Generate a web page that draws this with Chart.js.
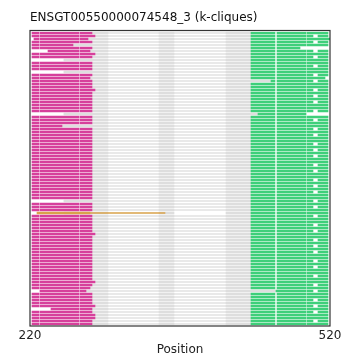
<!DOCTYPE html>
<html><head><meta charset="utf-8">
<script src="https://cdn.jsdelivr.net/npm/chart.js@4/dist/chart.umd.min.js"></script>
<style>html,body{margin:0;padding:0;background:#fff}#wrap{width:360px;height:357px}</style>
</head><body><div id="wrap"><canvas id="c" width="360" height="357"></canvas></div>
<script>
const chartTitle = "ENSGT00550000074548_3 (k-cliques)";
const xTicks = [220, 520];
const rowCount = 98;
const rowLabels = Array.from({length: rowCount}, (_, i) => "row" + i);

// magenta clique per row (null = absent)
const magentaStart = [
 222,222,224,222,222,222,238,222,222,null,
 222,222,222,null,222,222,222,222,222,222,
 222,222,222,222,222,222,222,null,222,222,
 222,222,222,222,222,222,222,222,222,222,
 222,222,222,222,222,222,222,222,222,222,
 222,222,222,222,222,222,null,222,222,222,
 null,222,222,222,222,222,222,222,222,222,
 222,222,222,222,222,222,222,222,222,222,
 222,222,222,222,222,222,230,222,222,222,
 222,222,241,222,222,222,222,222];
const magentaEnd = [
 282,285,278,282,263,282,280,285,282,null,
 282,282,282,null,282,280,282,282,282,285,
 282,282,282,282,282,282,282,null,282,282,
 282,252,282,282,282,282,282,282,282,282,
 282,282,282,282,282,282,282,282,282,282,
 282,282,282,282,282,282,null,282,282,282,
 null,282,282,282,282,282,282,285,282,282,
 282,282,282,282,282,282,282,282,282,282,
 282,282,282,285,282,280,276,282,282,282,
 282,285,282,282,285,285,282,282];
const magentaGaps = [[229,230],[269,270]];

// green clique per row
const greenStart = [
 441,441,441,441,441,441,441,441,441,441,
 441,441,441,441,441,441,461,441,441,441,
 441,441,441,441,441,441,441,448,441,441,
 441,441,441,441,441,441,441,441,441,441,
 441,441,441,441,441,441,441,441,441,441,
 441,441,441,441,441,441,441,441,441,441,
 441,441,441,441,441,441,441,441,441,441,
 441,441,441,441,441,441,441,441,441,441,
 441,441,441,441,441,441,466,441,441,441,
 441,441,441,441,441,441,441,441];
const greenEnd = [
 518,518,520,518,518,490,518,518,518,518,
 518,518,518,518,518,515,518,518,518,518,
 518,518,518,518,518,518,518,497,518,518,
 518,518,518,518,518,518,518,518,518,518,
 518,518,518,518,518,518,518,518,518,518,
 518,518,518,518,518,518,518,518,518,518,
 518,518,518,518,518,518,518,518,518,518,
 518,518,518,518,518,518,518,518,518,518,
 518,518,518,518,518,518,518,518,518,518,
 518,518,518,518,518,518,518,518];
const greenMid = [
 1,0,1,0,1,1,0,1,0,1,
 1,0,1,1,0,1,0,1,1,0,
 1,0,1,0,1,1,0,0,1,0,
 1,1,0,1,0,1,1,0,1,0,
 1,0,1,1,0,1,0,1,1,0,
 1,0,1,0,1,1,0,1,0,1,
 1,0,1,1,0,1,0,1,1,0,
 1,0,1,0,1,1,0,1,0,1,
 1,0,1,1,0,1,0,1,1,0,
 1,0,1,0,1,1,0,1];
const greenGaps = [[465,467],[496,497]];
const greenMidGap = [503,508];

// gray (unassigned) spans
const grayBareStart = 254;
const grayBlocks = [[298,298],[349,364],[416,441]];
const grayThinEnd = 441;

// orange clique (single row)
const orangeRow = 60;
const orangeThick = [227,280];
const orangeThin = [280,355];

function split(a, b, gaps){
  const out=[]; let s=a;
  for(const [g0,g1] of gaps){ if(g0>s && g0<b){ out.push([s,g0]); s=Math.max(s,g1);} }
  if(b>s) out.push([s,b]);
  return out;
}
const magentaData=[], greenData=[], grayData=[], thinData=[];
for(let i=0;i<rowCount;i++){
  const y=rowLabels[i];
  const gs = magentaEnd[i]==null ? grayBareStart : magentaEnd[i];
  if(i!==orangeRow) thinData.push({y, x:[gs, grayThinEnd]});
  grayData.push({y, x:[gs, grayBlocks[0][1]]});
  grayData.push({y, x:grayBlocks[1]});
  grayData.push({y, x:[grayBlocks[2][0], greenStart[i]]});
  if(magentaStart[i]!=null){
    for(const s of split(magentaStart[i], magentaEnd[i], magentaGaps)) magentaData.push({y, x:s});
  }
  const gg = greenMid[i] ? greenGaps : greenGaps.concat([greenMidGap]);
  for(const s of split(greenStart[i], greenEnd[i], gg)) greenData.push({y, x:s});
}
const orangeThickData=[{y:rowLabels[orangeRow], x:orangeThick}];
const orangeThinData=[{y:rowLabels[orangeRow], x:orangeThin}];

const common = {grouped:false, borderWidth:0, borderSkipped:false};
const framePlugin = {
  id:'frame',
  afterDraw(chart){
    const {ctx, chartArea:a} = chart;
    ctx.save();
    ctx.strokeStyle='#333'; ctx.lineWidth=1.2;
    ctx.strokeRect(a.left, 30.5, a.right-a.left, 326-30.5);
    ctx.fillStyle='#111'; ctx.font='12px "DejaVu Sans"';
    ctx.textBaseline='middle'; ctx.textAlign='left';
    ctx.fillText(chartTitle, a.left, 18);
    ctx.restore();
  }
};
new Chart(document.getElementById('c'), {
  type:'bar',
  data:{
    labels: rowLabels,
    datasets:[
      {...common, data:orangeThinData, backgroundColor:'#d9a24a', barThickness:1, order:1},
      {...common, data:orangeThickData, backgroundColor:'#d9a24a', barThickness:2, order:1},
      {...common, data:magentaData, backgroundColor:'#d6409b', barThickness:2, order:2},
      {...common, data:greenData, backgroundColor:'#3ecf7a', barThickness:2, order:2},
      {...common, data:grayData, backgroundColor:'#dedede', barThickness:2, order:5},
      {...common, data:thinData, backgroundColor:'#e2e2e2', barThickness:1, order:6}
    ]
  },
  options:{
    indexAxis:'y', responsive:false, animation:false,
    layout:{padding:{left:30,right:30,top:31.5,bottom:0}},
    plugins:{legend:{display:false}, tooltip:{enabled:false}, title:{display:false}},
    scales:{
      x:{type:'linear', min:220, max:520,
        grid:{display:false, drawTicks:false}, border:{display:false},
        afterBuildTicks(ax){ ax.ticks = xTicks.map(v=>({value:v})); },
        afterFit(ax){ ax.height = 31.5; },
        ticks:{padding:3.5, color:'#222', font:{family:'DejaVu Sans', size:12}, maxRotation:0, autoSkip:false},
        title:{display:true, text:'Position', color:'#222', padding:{top:0,bottom:0}, font:{family:'DejaVu Sans', size:12}}
      },
      y:{type:'category', display:false, offset:true}
    }
  },
  plugins:[framePlugin]
});
</script></body></html>
